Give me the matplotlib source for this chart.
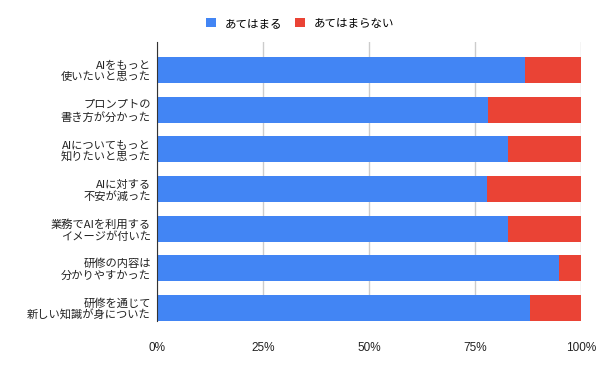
import matplotlib
matplotlib.use("Agg")
import matplotlib.pyplot as plt
import numpy as np

plt.rcParams['font.family'] = ['Noto Sans CJK JP', 'DejaVu Sans']

# data (share of respondents)
labels = ['AIをもっと\n使いたいと思った',
          'プロンプトの\n書き方が分かった',
          'AIについてもっと\n知りたいと思った',
          'AIに対する\n不安が減った',
          '業務でAIを利用する\nイメージが付いた',
          '研修の内容は\n分かりやすかった',
          '研修を通じて\n新しい知識が身についた']
agree = [0.868, 0.780, 0.827, 0.778, 0.827, 0.949, 0.880]
disagree = [1 - a for a in agree]
series_names = ['あてはまる', 'あてはまらない']
x_ticks = [0, 0.25, 0.5, 0.75, 1.0]
x_tick_labels = ['0%', '25%', '50%', '75%', '100%']

blue = '#4285f4'
red = '#ea4335'

fig = plt.figure(figsize=(6, 3.71), dpi=100)
ax = fig.add_axes([157/600, 1 - 321/371, 424/600, (321 - 42)/371])

y = np.arange(len(labels))
ax.barh(y, agree, height=0.65, color=blue, label=series_names[0], zorder=2)
ax.barh(y, disagree, left=agree, height=0.65, color=red, label=series_names[1], zorder=2)

ax.set_xlim(0, 1)
ax.set_ylim(6 + 13/39.67, -28/39.67)
ax.set_xticks(x_ticks)
ax.set_xticklabels(x_tick_labels, fontsize=8.5, family=['Liberation Sans', 'DejaVu Sans'],
                   color='#222222')
ax.set_yticks(y)
ax.set_yticklabels(labels, fontsize=8.1, color='#222222', linespacing=1.15)
ax.tick_params(axis='y', length=0, pad=4.5)
ax.tick_params(axis='x', length=0, pad=15)

ax.grid(axis='x', color='#cccccc', linewidth=1, zorder=0)
for s in ['top', 'right', 'bottom']:
    ax.spines[s].set_visible(False)
ax.spines['left'].set_color('#333333')
ax.spines['left'].set_zorder(3)

fig.legend(loc='upper center', bbox_to_anchor=(0.5, 0.983), ncol=2, frameon=False,
           fontsize=8.3, handlelength=0.87, handleheight=0.87, handletextpad=0.75,
           columnspacing=1.1)

fig.savefig('out.png', dpi=100)
